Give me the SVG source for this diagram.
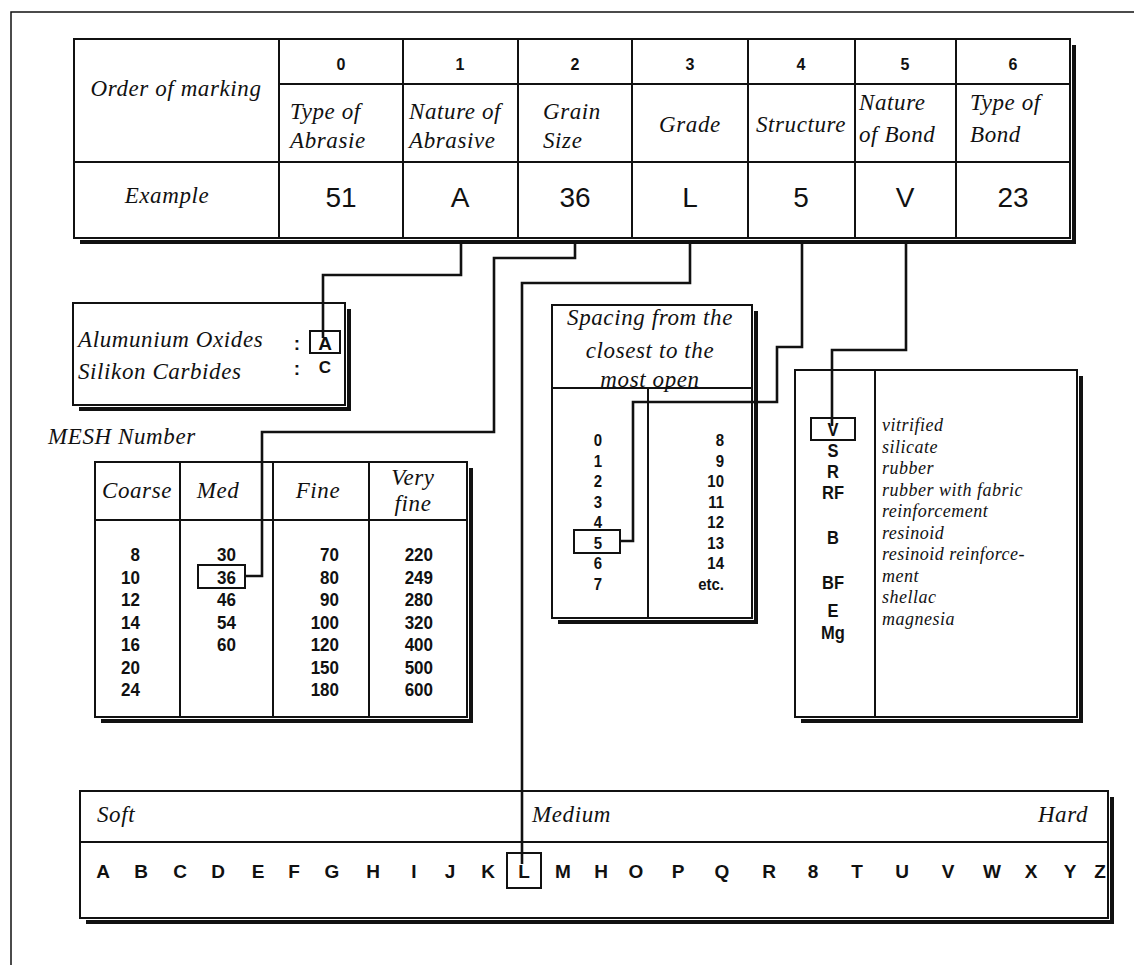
<svg xmlns="http://www.w3.org/2000/svg" width="1134" height="965" viewBox="0 0 1134 965">
<style>
.ln{stroke:#111;stroke-width:2;fill:none}
.sh{stroke:#111;stroke-width:4;fill:none}
.con{stroke:#111;stroke-width:2.6;fill:none}
.it{font-family:"Liberation Serif",serif;font-style:italic;fill:#111;font-size:23px;letter-spacing:0.6px}
.sm{font-size:18px;letter-spacing:0.5px}
.bn{font-family:"Liberation Sans",Arial,sans-serif;font-weight:bold;fill:#111;font-size:17px}
.bs{font-size:15px}
.bc{font-size:16.5px}
.hn{font-family:"Liberation Sans",Arial,sans-serif;font-weight:bold;fill:#111;font-size:16px;text-anchor:middle}
.ex{font-family:"Liberation Sans",Arial,sans-serif;fill:#111;font-size:28px;text-anchor:middle}
.lt{font-family:"Liberation Sans",Arial,sans-serif;font-weight:bold;fill:#111;font-size:19px;text-anchor:middle}
.m{text-anchor:middle}
.e{text-anchor:end}
</style>
<rect x="0" y="0" width="1134" height="965" fill="#fff"/>
<path d="M11,965 V12 H1134" stroke="#111" stroke-width="1.5" fill="none"/>

<g id="marking-table">
<rect class="ln" x="74" y="39" width="996" height="199"/>
<path class="sh" d="M1074,45 V242 H80"/>
<path class="ln" d="M279,39 V238 M403,39 V238 M518,39 V238 M632,39 V238 M748,39 V238 M855,39 V238 M956,39 V238 M279,84 H1070 M74,162 H1070"/>
<text class="it m" x="176" y="96">Order of marking</text>
<text class="hn" x="341" y="70">0</text>
<text class="hn" x="460" y="70">1</text>
<text class="hn" x="575" y="70">2</text>
<text class="hn" x="690" y="70">3</text>
<text class="hn" x="801" y="70">4</text>
<text class="hn" x="905" y="70">5</text>
<text class="hn" x="1013" y="70">6</text>
<text class="it" x="290" y="119">Type of</text>
<text class="it" x="290" y="148">Abrasie</text>
<text class="it" x="409" y="119">Nature of</text>
<text class="it" x="409" y="148">Abrasive</text>
<text class="it" x="543" y="119">Grain</text>
<text class="it" x="543" y="148">Size</text>
<text class="it m" x="690" y="132">Grade</text>
<text class="it m" x="801" y="132">Structure</text>
<text class="it" x="859" y="110">Nature</text>
<text class="it" x="859" y="142">of Bond</text>
<text class="it" x="970" y="110">Type of</text>
<text class="it" x="970" y="142">Bond</text>
<text class="it m" x="167" y="203">Example</text>
<text class="ex" x="341" y="207">51</text>
<text class="ex" x="460" y="207">A</text>
<text class="ex" x="575" y="207">36</text>
<text class="ex" x="690" y="207">L</text>
<text class="ex" x="801" y="207">5</text>
<text class="ex" x="905" y="207">V</text>
<text class="ex" x="1013" y="207">23</text>
</g>

<g id="abrasive-box">
<rect class="ln" x="73" y="303" width="272" height="102"/>
<path class="sh" d="M349,309 V409 H79"/>
<text class="it" x="78" y="347">Alumunium Oxides</text>
<text class="it" x="78" y="379">Silikon Carbides</text>
<text class="lt" x="297" y="350">:</text>
<text class="lt" x="297" y="375">:</text>
<rect class="ln" x="310" y="331" width="30" height="22"/>
<text class="lt" x="325" y="350">A</text>
<text class="lt" x="325" y="373" style="font-size:17px">C</text>
</g>

<text class="it" x="48" y="444">MESH Number</text>

<g id="mesh-table">
<rect class="ln" x="95" y="462" width="372" height="255"/>
<path class="sh" d="M471,468 V721 H101"/>
<path class="ln" d="M95,520 H467 M180,462 V717 M273,462 V717 M369,462 V717"/>
<text class="it m" x="137" y="498">Coarse</text>
<text class="it m" x="218" y="498">Med</text>
<text class="it m" x="318" y="498">Fine</text>
<text class="it m" x="413" y="485">Very</text>
<text class="it m" x="413" y="511">fine</text>
<g class="bn">
<text class="e" transform="translate(140 561) scale(1 1.1)">8</text>
<text class="e" transform="translate(140 583.5) scale(1 1.1)">10</text>
<text class="e" transform="translate(140 606) scale(1 1.1)">12</text>
<text class="e" transform="translate(140 628.5) scale(1 1.1)">14</text>
<text class="e" transform="translate(140 651) scale(1 1.1)">16</text>
<text class="e" transform="translate(140 673.5) scale(1 1.1)">20</text>
<text class="e" transform="translate(140 696) scale(1 1.1)">24</text>
<text class="e" transform="translate(236 561) scale(1 1.1)">30</text>
<text class="e" transform="translate(236 583.5) scale(1 1.1)">36</text>
<text class="e" transform="translate(236 606) scale(1 1.1)">46</text>
<text class="e" transform="translate(236 628.5) scale(1 1.1)">54</text>
<text class="e" transform="translate(236 651) scale(1 1.1)">60</text>
<text class="e" transform="translate(339 561) scale(1 1.1)">70</text>
<text class="e" transform="translate(339 583.5) scale(1 1.1)">80</text>
<text class="e" transform="translate(339 606) scale(1 1.1)">90</text>
<text class="e" transform="translate(339 628.5) scale(1 1.1)">100</text>
<text class="e" transform="translate(339 651) scale(1 1.1)">120</text>
<text class="e" transform="translate(339 673.5) scale(1 1.1)">150</text>
<text class="e" transform="translate(339 696) scale(1 1.1)">180</text>
<text class="e" transform="translate(433 561) scale(1 1.1)">220</text>
<text class="e" transform="translate(433 583.5) scale(1 1.1)">249</text>
<text class="e" transform="translate(433 606) scale(1 1.1)">280</text>
<text class="e" transform="translate(433 628.5) scale(1 1.1)">320</text>
<text class="e" transform="translate(433 651) scale(1 1.1)">400</text>
<text class="e" transform="translate(433 673.5) scale(1 1.1)">500</text>
<text class="e" transform="translate(433 696) scale(1 1.1)">600</text>
</g>
<rect class="ln" x="198" y="565" width="47" height="23"/>
</g>

<g id="structure-box">
<rect class="ln" x="552" y="305" width="200" height="313"/>
<path class="sh" d="M756,311 V622 H558"/>
<path class="ln" d="M552,388 H752 M648,388 V618"/>
<text class="it m" x="650" y="325">Spacing from the</text>
<text class="it m" x="650" y="358">closest to the</text>
<text class="it m" x="650" y="387">most open</text>
<g class="bn bs">
<text class="m" transform="translate(598 446) scale(1 1.15)">0</text>
<text class="m" transform="translate(598 466.5) scale(1 1.15)">1</text>
<text class="m" transform="translate(598 487) scale(1 1.15)">2</text>
<text class="m" transform="translate(598 507.5) scale(1 1.15)">3</text>
<text class="m" transform="translate(598 528) scale(1 1.15)">4</text>
<text class="m" transform="translate(598 548.5) scale(1 1.15)">5</text>
<text class="m" transform="translate(598 569) scale(1 1.15)">6</text>
<text class="m" transform="translate(598 589.5) scale(1 1.15)">7</text>
<text class="e" transform="translate(724 446) scale(1 1.15)">8</text>
<text class="e" transform="translate(724 466.5) scale(1 1.15)">9</text>
<text class="e" transform="translate(724 487) scale(1 1.15)">10</text>
<text class="e" transform="translate(724 507.5) scale(1 1.15)">11</text>
<text class="e" transform="translate(724 528) scale(1 1.15)">12</text>
<text class="e" transform="translate(724 548.5) scale(1 1.15)">13</text>
<text class="e" transform="translate(724 569) scale(1 1.15)">14</text>
<text class="e" transform="translate(724 589.5) scale(1 1.15)">etc.</text>
</g>
<rect class="ln" x="574" y="530" width="46" height="23"/>
</g>

<g id="bond-box">
<rect class="ln" x="795" y="370" width="282" height="347"/>
<path class="sh" d="M1081,376 V721 H801"/>
<path class="ln" d="M875,370 V717"/>
<rect class="ln" x="811" y="418" width="44" height="22"/>
<g class="bn bc">
<text class="m" transform="translate(833 436) scale(1 1.1)">V</text>
<text class="m" transform="translate(833 457) scale(1 1.1)">S</text>
<text class="m" transform="translate(833 478) scale(1 1.1)">R</text>
<text class="m" transform="translate(833 499) scale(1 1.1)">RF</text>
<text class="m" transform="translate(833 544) scale(1 1.1)">B</text>
<text class="m" transform="translate(833 589) scale(1 1.1)">BF</text>
<text class="m" transform="translate(833 617) scale(1 1.1)">E</text>
<text class="m" transform="translate(833 639) scale(1 1.1)">Mg</text>
</g>
<g class="it sm">
<text x="882" y="431">vitrified</text>
<text x="882" y="452.5">silicate</text>
<text x="882" y="474">rubber</text>
<text x="882" y="495.5">rubber with fabric</text>
<text x="882" y="517">reinforcement</text>
<text x="882" y="538.5">resinoid</text>
<text x="882" y="560">resinoid reinforce-</text>
<text x="882" y="581.5">ment</text>
<text x="882" y="603">shellac</text>
<text x="882" y="624.5">magnesia</text>
</g>
</g>

<g id="grade-scale">
<rect class="ln" x="80" y="791" width="1028" height="127"/>
<path class="sh" d="M1112,797 V922 H86"/>
<path class="ln" d="M80,842 H1108"/>
<text class="it" x="97" y="822">Soft</text>
<text class="it" x="532" y="822">Medium</text>
<text class="it e" x="1088" y="822">Hard</text>
<g class="lt">
<text x="103" y="878">A</text><text x="141" y="878">B</text><text x="180" y="878">C</text><text x="218" y="878">D</text>
<text x="258" y="878">E</text><text x="294" y="878">F</text><text x="332" y="878">G</text><text x="373" y="878">H</text>
<text x="414" y="878">I</text><text x="450" y="878">J</text><text x="488" y="878">K</text><text x="524" y="878">L</text>
<text x="563" y="878">M</text><text x="601" y="878">H</text><text x="636" y="878">O</text><text x="678" y="878">P</text>
<text x="722" y="878">Q</text><text x="769" y="878">R</text><text x="813" y="878">8</text><text x="857" y="878">T</text>
<text x="902" y="878">U</text><text x="948" y="878">V</text><text x="992" y="878">W</text><text x="1031" y="878">X</text>
<text x="1070" y="878">Y</text><text x="1100" y="878">Z</text>
</g>
<rect class="ln" x="507" y="853" width="34" height="35"/>
</g>

<g id="connectors">
<path class="con" d="M461,243 V275 H323 V338"/>
<path class="con" d="M575,243 V258 H494 V432 H262 V576 H245"/>
<path class="con" d="M690,243 V283 H522 V864"/>
<path class="con" d="M802,243 V347 H777 V402 H633 V541 H620"/>
<path class="con" d="M906,243 V350 H832 V426"/>
</g>
</svg>
